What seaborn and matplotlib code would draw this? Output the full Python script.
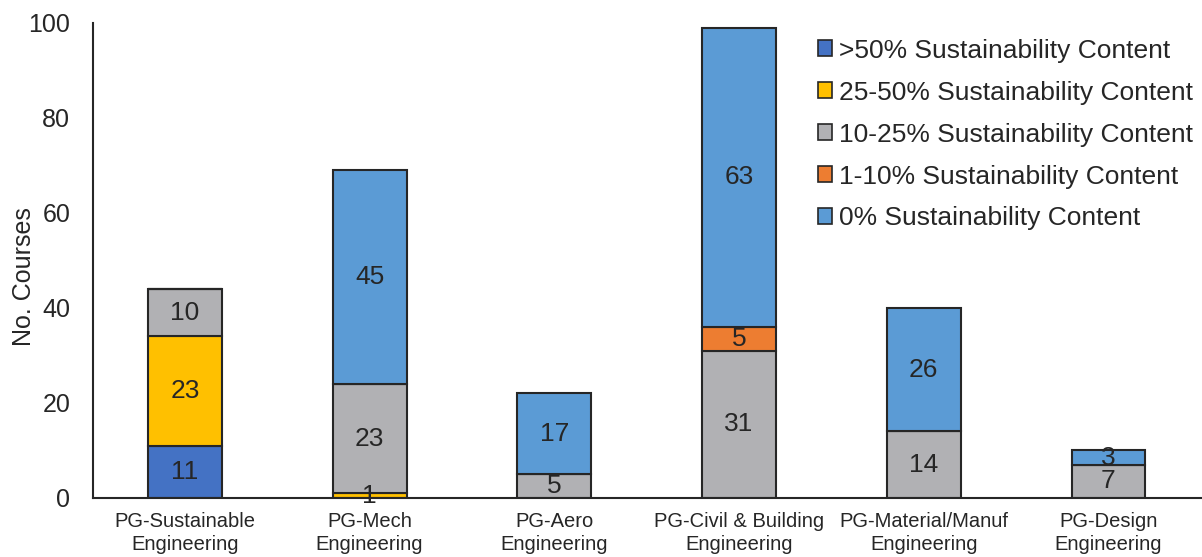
import seaborn as sns
import matplotlib.pyplot as plt
from matplotlib.patches import Patch
import numpy as np

programmes = ["PG-Sustainable\nEngineering", "PG-Mech\nEngineering", "PG-Aero\nEngineering",
              "PG-Civil & Building\nEngineering", "PG-Material/Manuf\nEngineering", "PG-Design\nEngineering"]
levels = [">50% Sustainability Content", "25-50% Sustainability Content",
          "10-25% Sustainability Content", "1-10% Sustainability Content",
          "0% Sustainability Content"]
over_50 = [11, 0, 0, 0, 0, 0]
from_25_50 = [23, 1, 0, 0, 0, 0]
from_10_25 = [10, 23, 5, 31, 14, 7]
from_1_10 = [0, 0, 0, 5, 0, 0]
zero_pct = [0, 45, 17, 63, 26, 3]
colors = ["#4472C4", "#FFC000", "#B1B1B4", "#ED7D31", "#5B9BD5"]

sns.set_theme(style="white")
plt.rcParams['font.family'] = ['Liberation Sans', 'DejaVu Sans']

fig, ax = plt.subplots(figsize=(12.02, 5.57), dpi=100)
fig.subplots_adjust(left=0.077, right=0.999, top=0.959, bottom=0.106)

bottom = np.zeros(len(programmes))
for name, vals, col in zip(levels, [over_50, from_25_50, from_10_25, from_1_10, zero_pct], colors):
    vals = np.array(vals, dtype=float)
    sns.barplot(x=programmes, y=vals, color=col, width=0.4, bottom=bottom,
                edgecolor="#262626", linewidth=1.5, saturation=1, ax=ax)
    cont = ax.containers[-1]
    labels = [str(int(v)) if v > 0 else "" for v in vals]
    ax.bar_label(cont, labels=labels, label_type="center", fontsize=19, color="#262626")
    bottom = bottom + vals

ax.set_ylim(0, 100)
ax.set_xlim(-0.5, 5.5)
ax.set_yticks(range(0, 101, 20))
ax.tick_params(axis="y", direction="in", length=5, width=1.5, labelsize=18, colors="#262626", pad=16)
ax.tick_params(axis="x", length=0, labelsize=14.5, colors="#262626", pad=10)
for lbl in ax.get_xticklabels():
    lbl.set_linespacing(1.3)
ax.set_ylabel("No. Courses", fontsize=18, color="#262626")
ax.yaxis.set_label_coords(-0.051, 0.465)
sns.despine(ax=ax, top=True, right=True)
for s in ["left", "bottom"]:
    ax.spines[s].set_color("#262626")
    ax.spines[s].set_linewidth(1.5)

handles = [Patch(facecolor=c, edgecolor="#262626", linewidth=1.2) for c in colors]
ax.legend(handles, levels, loc="upper right", bbox_to_anchor=(1.007, 1.0), frameon=False,
          fontsize=19, handlelength=0.55, handleheight=0.55, handletextpad=0.25, labelspacing=0.68,
          labelcolor="#262626", borderaxespad=0.2)

plt.savefig("out.png", dpi=100)
